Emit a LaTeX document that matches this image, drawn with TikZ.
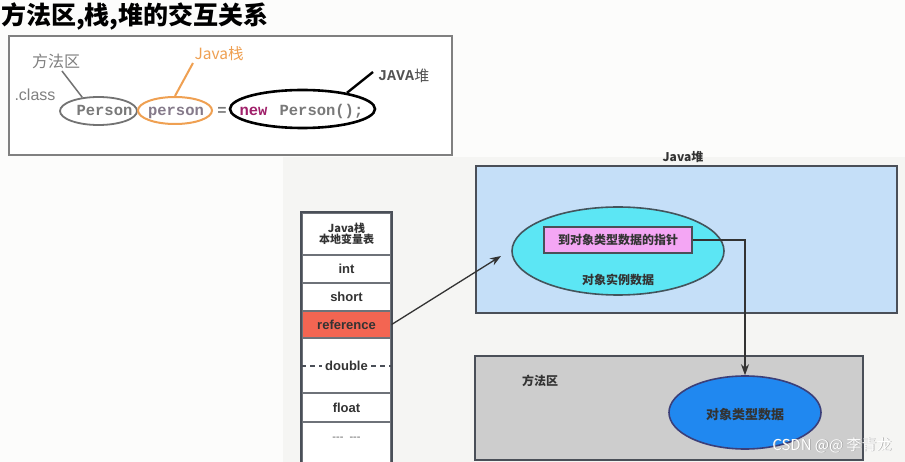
\documentclass[tikz,border=0pt]{standalone}
\usepackage{fontspec}
\setmainfont{Liberation Sans}
\newfontfamily\cjk{Noto Sans CJK SC}
\newfontfamily\mono{Liberation Mono}
\usetikzlibrary{arrows.meta,shapes.geometric}
\definecolor{bgwhite}{HTML}{FCFCFB}
\definecolor{bggray}{HTML}{F5F5F3}
\definecolor{lgray}{HTML}{808080}
\definecolor{orng}{HTML}{EFA052}
\definecolor{persn}{HTML}{857A8A}
\definecolor{newc}{HTML}{A0206A}
\definecolor{dtext}{HTML}{333333}
\definecolor{heapblue}{HTML}{C5DFF8}
\definecolor{cyanfill}{HTML}{5CE6F4}
\definecolor{pinkfill}{HTML}{F4A6F4}
\definecolor{refred}{HTML}{F36552}
\definecolor{methgray}{HTML}{CDCDCD}
\definecolor{bluefill}{HTML}{2088F0}
\definecolor{edge}{HTML}{4A4F58}
\tikzset{
  lbl/.style={inner sep=0pt},
  code/.style={inner sep=0pt, anchor=base, font=\mono\bfseries\fontsize{15.5}{15.5}\selectfont, text=gray!95!black},
  row/.style={draw=edge!80, line width=1.3pt, fill=white, minimum width=89pt, inner sep=0pt,
    font=\bfseries\fontsize{13}{15}\selectfont, text=dtext},
  cjkb/.style={font=\cjk\bfseries\fontsize{#1}{#1}\selectfont, text=dtext, inner sep=0pt},
  conn/.style={draw=dtext, line width=1.3pt},
  tip/.style={-{Stealth[length=11pt,width=8pt]}}
}
\begin{document}
\begin{tikzpicture}[x=1pt,y=-1pt]
\useasboundingbox (0,0) rectangle (905,462);
\clip (0,0) rectangle (905,462);
\fill[bgwhite] (0,0) rectangle (905,462);
\fill[bggray] (283,157) rectangle (905,462);

% title
\node[cjkb=25, text=black, anchor=west] (title) at (1,16) {方法区,栈,堆的交互关系};

% top box
\node[draw=lgray, line width=2pt, fill=white, minimum width=443pt, minimum height=119pt] (topbox) at (230.5,95.5) {};
\node[lbl, font=\cjk\fontsize{16}{16}\selectfont, text=lgray] (fq) at (56,61) {方法区};
\node[lbl, font=\fontsize{16}{16}\selectfont, text=lgray] (cls) at (35,95) {.class};
\node[lbl, font=\cjk\fontsize{15.5}{15.5}\selectfont, text=orng] (jz) at (219,54) {Java栈};
\node[lbl, font=\mono\bfseries\fontsize{15}{15}\selectfont, text=dtext!85] (jd1) at (396,76) {JAVA};
\node[lbl, font=\cjk\fontsize{15}{15}\selectfont, text=dtext!85, anchor=west] (jd2) at (jd1.east) {堆};

\node[ellipse, draw=gray!90!black, line width=1.8pt, minimum width=77pt, minimum height=28pt, inner sep=0pt] (pe1) at (98.5,111) {};
\node[ellipse, draw=orng, line width=2pt, minimum width=74pt, minimum height=27pt, inner sep=0pt] (pe2) at (175,110.5) {};
\node[ellipse, draw=black, line width=2.6pt, minimum width=145pt, minimum height=38pt, inner sep=0pt] (pe3) at (302.5,109) {};

\node[code] (t1) at (104.5,115.5) {Person};
\node[code, text=persn] (t2) at (176,115.5) {person};
\node[code] (eq) at (222,115.5) {=};
\node[code, text=newc] (t3) at (253.5,115.5) {new};
\node[code] (t4) at (321.5,115.5) {Person();};

\coordinate (fqend) at (62,71);
\coordinate (jzend) at (193,63);
\coordinate (jdend) at (373,72);
\draw[draw=gray!90!black, line width=1.5pt] (fqend) -- (pe1.140);
\draw[draw=orng, line width=2pt] (jzend) -- (pe2.north);
\draw[draw=black, line width=2.4pt] (pe3.20) -- (jdend);

% stack table
\node[row, minimum height=42pt, align=center, font=\cjk\bfseries\fontsize{11}{11}\selectfont] (hdr) at (346.5,234) {Java栈\\[0.5pt]本地变量表};
\node[row, minimum height=28pt] (int) at (346.5,269) {int};
\node[row, minimum height=28pt] (short) at (346.5,297) {short};
\node[row, minimum height=27pt, fill=refred] (ref) at (346.5,324.5) {reference};
\node[row, minimum height=55pt] (dbl) at (346.5,365.5) {};
\node[row, minimum height=29pt] (flt) at (346.5,407.5) {float};
\node[row, minimum height=48pt] (dots) at (346.5,446) {};
\node[lbl, font=\bfseries\fontsize{13}{15}\selectfont, text=dtext] (dbltxt) at (346.5,366) {double};
\node[lbl, font=\bfseries\fontsize{11}{11}\selectfont, text=gray!80] (dotstxt) at (346.5,439) {-{}-{}-\ \ -{}-{}-};
\draw[draw=edge, line width=1.3pt, dash pattern=on 5pt off 4pt] (dbl.west |- dbltxt) -- ([xshift=-3pt]dbltxt.west);
\draw[draw=edge, line width=1.3pt, dash pattern=on 5pt off 4pt] ([xshift=3pt]dbltxt.east) -- (dbl.east |- dbltxt);
\draw[draw=edge, line width=2pt] (hdr.north west) rectangle (dots.south east);

% heap
\node[draw=edge, line width=1.6pt, fill=heapblue, minimum width=421pt, minimum height=147pt] (heap) at (686.5,239.5) {};
\node[cjkb=12] (heaplbl) at (683,157) {Java堆};
\node[ellipse, draw=edge!90!teal, line width=1.6pt, fill=cyanfill, minimum width=212pt, minimum height=88pt, inner sep=0pt] (inst) at (618,251) {};
\node[draw=edge, line width=1.5pt, fill=pinkfill, minimum width=148pt, minimum height=26pt, cjkb=12] (ptr) at (618,240) {到对象类型数据的指针};
\node[cjkb=12] (instlbl) at (618,280) {对象实例数据};
\coordinate (arrtip) at (501,256);
\draw[conn, tip] (ref.east) -- (arrtip);

% method area
\node[draw=edge, line width=1.6pt, fill=methgray, minimum width=388pt, minimum height=104pt] (meth) at (669,408) {};
\node[cjkb=12] (methlbl) at (540,381) {方法区};
\node[ellipse, draw=edge!80!blue, line width=1.6pt, fill=bluefill, minimum width=152pt, minimum height=73pt, inner sep=0pt] (cls2) at (745,412.5) {};
\node[cjkb=13] (clslbl) at (745,415) {对象类型数据};

\draw[conn, tip] (ptr.east) -| (cls2.north);

% watermark
\node[lbl, font=\cjk\fontsize{15}{15}\selectfont, text=gray!70] (wmshadow) at (832.8,445.8) {CSDN @@ 李青龙};
\node[lbl, font=\cjk\fontsize{15}{15}\selectfont, text=white] (wm) at (832,445) {CSDN @@ 李青龙};
\end{tikzpicture}
\end{document}
